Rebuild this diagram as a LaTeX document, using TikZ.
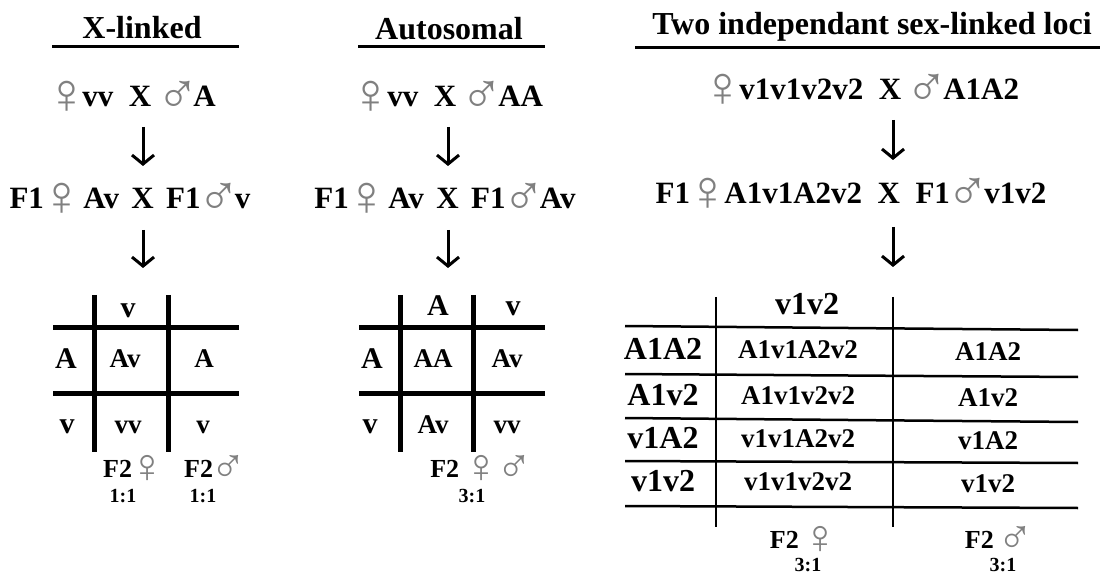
\documentclass[tikz,border=0pt]{standalone}
\usepackage{fontspec}
\setmainfont{Liberation Serif}
\usetikzlibrary{arrows.meta}
\definecolor{symgray}{gray}{0.5}
\newcommand{\sexsym}[1]{{\mdseries\color{symgray}\kern-0.1em\smash{\raisebox{-0.21em}{\scalebox{1.85}{#1}}}\kern-0.18em}}
\newcommand{\sfem}{\sexsym{♀}}
\newcommand{\smal}{\sexsym{♂}}
\newcommand{\fs}[1]{\fontsize{#1}{#1}\selectfont\bfseries}

\begin{document}
\begin{tikzpicture}[x=1pt, y=-1pt,
    every node/.style={inner sep=0pt, anchor=base},
    title/.style={font=\fs{32}},
    cross/.style={font=\fs{31}},
    big/.style={font=\fs{30}},
    cell/.style={font=\fs{27}},
    f2/.style={font=\fs{26}},
    ratio/.style={font=\fs{20}},
    rule/.style={line width=3pt},
    grid/.style={line width=5pt},
    thingrid/.style={line width=2.5pt},
    descend/.style={line width=3pt, -{Straight Barb[length=9pt, width=22pt]}}]
    \useasboundingbox (0,0) rectangle (1100,577);

    % headings
    \node[title] (xtitle) at (142,39) {X-linked};
    \node[title] (atitle) at (449,40) {Autosomal};
    \node[title] (ttitle) at (872,35) {Two independant sex-linked loci};
    \draw[rule] (52,47) -- (239,47);
    \draw[rule] (358,47) -- (545,47);
    \draw[rule] (635,48) -- (1100,48);

    % parental and F1 crosses
    \node[cross] (xp) at (132,107) {\sfem vv\enspace X \smal A};
    \node[cross] (xf) at (130,209) {F1\sfem\,Av\hspace{0.4em}X\hspace{0.4em}F1\smal v};
    \node[cross] (ap) at (448,107) {\sfem vv\enspace X \smal AA};
    \node[cross] (af) at (445,209) {F1\sfem\,Av\hspace{0.4em}X\hspace{0.4em}F1\smal Av};
    \node[cross] (tp) at (862,100) {\sfem v1v1v2v2\enspace X \smal A1A2};
    \node[cross] (tf) at (851,204) {F1\sfem A1v1A2v2\enspace X\enspace F1\smal v1v2};

    \foreach \name/\ax/\ya/\yb in {xa/143/127/166, xb/143/230/268,
                                   aa/448/127/166, ab/448/230/268,
                                   ta/893/120/160, tb/893/227/267} {
      \coordinate (\name-s) at (\ax,\ya);
      \coordinate (\name-e) at (\ax,\yb);
      \draw[descend] (\name-s) -- (\name-e);
    }

    % X-linked square
    \draw[grid] (94,295) -- (94,452);
    \draw[grid] (168,295) -- (168,452);
    \draw[grid] (53,327) -- (239,327);
    \draw[grid] (53,393) -- (239,393);
    \node[big] (xcv) at (128,317) {v};
    \node[big] (xrA) at (66,368) {A};
    \node[cell] (xAv) at (125,367) {Av};
    \node[cell] (xA) at (204,367) {A};
    \node[big] (xrv) at (67,433) {v};
    \node[cell] (xvv) at (128,433) {vv};
    \node[cell] (xv) at (203,433) {v};
    \node[f2] (xf2f) at (132,477) {F2\sfem};
    \node[ratio] (xrf) at (123,502) {1:1};
    \node[f2] (xf2m) at (213,477) {F2\smal};
    \node[ratio] (xrm) at (203,502) {1:1};

    % autosomal square
    \draw[grid] (400,295) -- (400,452);
    \draw[grid] (473,295) -- (473,452);
    \draw[grid] (359,327) -- (545,327);
    \draw[grid] (359,393) -- (545,393);
    \node[big] (acA) at (438,316) {A};
    \node[big] (acv) at (513,316) {v};
    \node[big] (arA) at (372,368) {A};
    \node[cell] (aAA) at (433,367) {AA};
    \node[cell] (aAv) at (507,367) {Av};
    \node[big] (arv) at (370,433) {v};
    \node[cell] (avA) at (433,433) {Av};
    \node[cell] (avv) at (507,433) {vv};
    \node[f2] (af2) at (479,477) {F2 \sfem\,\smal};
    \node[ratio] (ar) at (472,502) {3:1};

    % two-loci square
    \draw[thingrid] (716,297) -- (716,527);
    \draw[thingrid] (893,297) -- (893,527);
    \foreach \yl/\yr in {326/330, 374/377, 418/422, 461/463, 506/508}
      \draw[thingrid] (625,\yl) -- (893,\yl+0.6*\yr-0.6*\yl) -- (1078,\yr);
    \node[title] (tcv) at (807,315) {v1v2};
    \foreach \i/\row/\cell/\male/\yb in {1/A1A2/A1v1A2v2/A1A2/359,
                                        2/A1v2/A1v1v2v2/A1v2/405,
                                        3/v1A2/v1v1A2v2/v1A2/448,
                                        4/v1v2/v1v1v2v2/v1v2/491} {
      \node[title] (tr\i) at (663,\yb) {\row};
      \node[cell] (tc\i) at (798,\yb-1) {\cell};
      \node[cell] (tm\i) at (988,\yb+1) {\male};
    }
    \node[f2] (tf2f) at (802,548) {F2 \sfem};
    \node[ratio] (trf) at (808,571) {3:1};
    \node[f2] (tf2m) at (997,548) {F2 \smal};
    \node[ratio] (trm) at (1003,571) {3:1};
\end{tikzpicture}
\end{document}
